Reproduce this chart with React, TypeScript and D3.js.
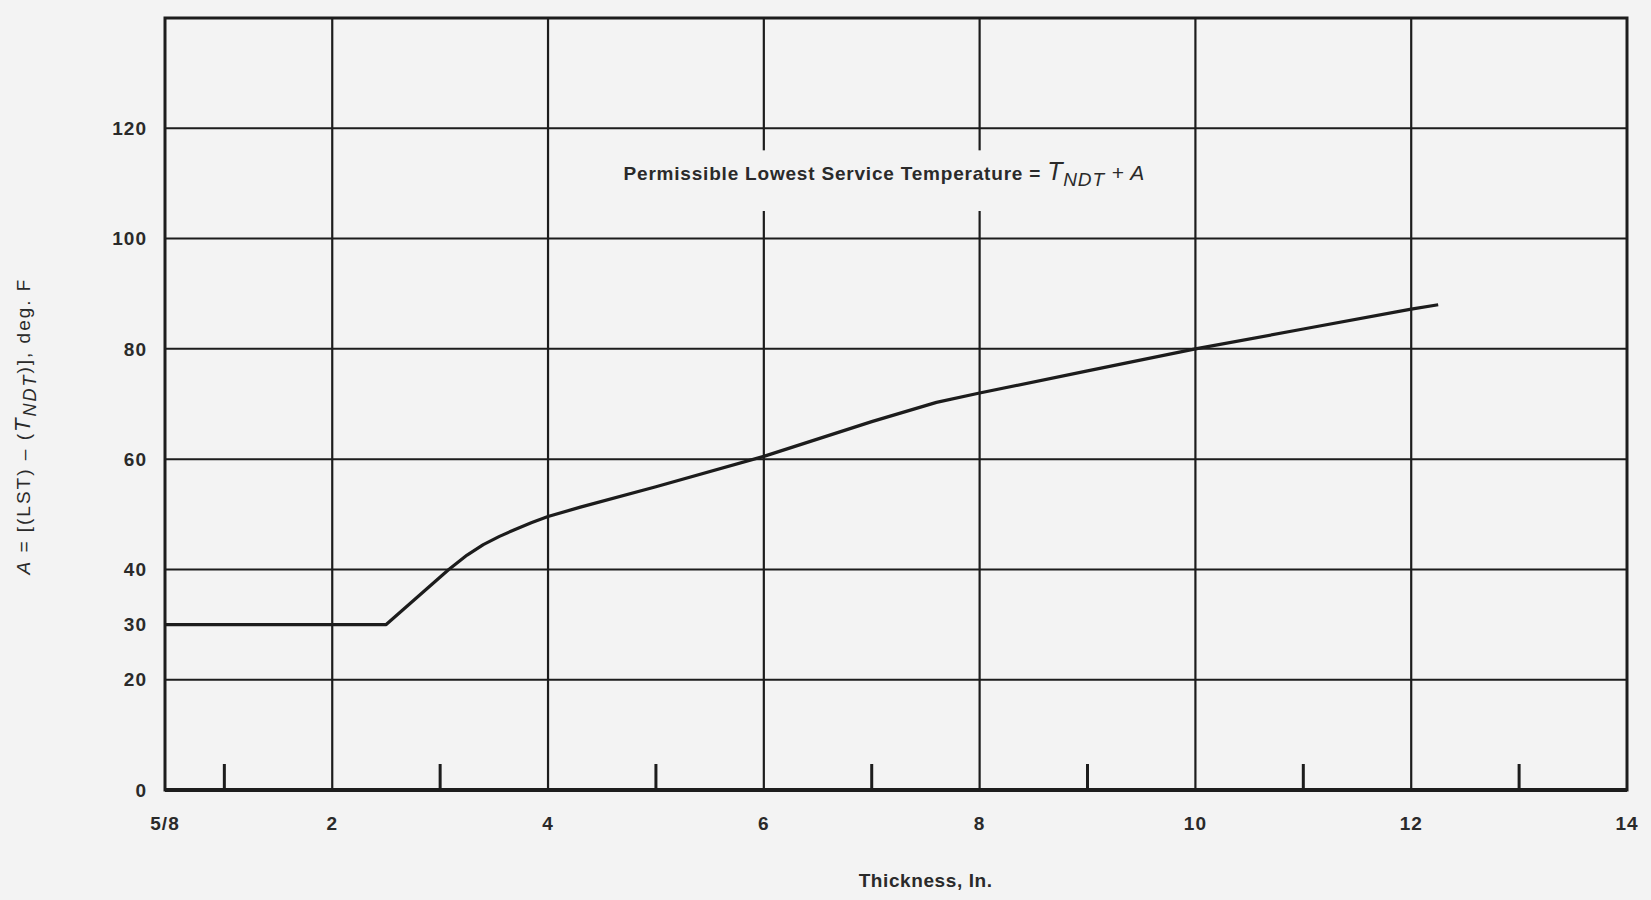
import React, { useEffect, useRef } from 'react';
import * as d3 from 'd3';

// data
const thickness = [0.45, 2.5, 3.08, 3.25, 3.4, 3.55, 3.7, 3.85, 4, 4.3, 5, 6, 7, 7.6, 8, 9, 10, 11, 12, 12.25];
const aValues = [30, 30, 40, 42.6, 44.5, 46, 47.3, 48.5, 49.6, 51.3, 55, 60.5, 66.8, 70.3, 72, 76, 80, 83.6, 87.2, 88];

const xTickValues = [0.45, 2, 4, 6, 8, 10, 12, 14];
const xTickLabels = ['5/8', '2', '4', '6', '8', '10', '12', '14'];
const xGridValues = [2, 4, 6, 8, 10, 12];
const xMinorTicks = [1, 3, 5, 7, 9, 11, 13];

const yTickValues = [0, 20, 30, 40, 60, 80, 100, 120];
const yGridValues = [20, 40, 60, 80, 100, 120];

const ink = '#1c1c1c';
const textInk = '#2a2a2a';
const paper = '#f3f3f3';
const font = '"Liberation Sans", Arial, sans-serif';

function App() {
  const ref = useRef(null);

  useEffect(() => {
    document.body.style.margin = '0';
    document.body.style.background = paper;

    const width = 1651, height = 900;
    const margin = { top: 18, right: 24, bottom: 110, left: 165 };

    const svg = d3.select(ref.current);
    svg.selectAll('*').remove();

    const x = d3.scaleLinear().domain([0.45, 14]).range([margin.left, width - margin.right]);
    const y = d3.scaleLinear().domain([0, 140]).range([height - margin.bottom, margin.top]);

    svg.append('rect').attr('width', width).attr('height', height).attr('fill', paper);

    // horizontal grid
    svg.append('g').selectAll('line').data(yGridValues).join('line')
      .attr('x1', x(0.45)).attr('x2', x(14))
      .attr('y1', d => y(d)).attr('y2', d => y(d))
      .attr('stroke', ink).attr('stroke-width', 2);

    // vertical grid
    svg.append('g').selectAll('line').data(xGridValues).join('line')
      .attr('x1', d => x(d)).attr('x2', d => x(d))
      .attr('y1', y(0)).attr('y2', y(140))
      .attr('stroke', ink).attr('stroke-width', 2.2);

    // minor ticks on the bottom axis
    svg.append('g').selectAll('line').data(xMinorTicks).join('line')
      .attr('x1', d => x(d)).attr('x2', d => x(d))
      .attr('y1', y(0)).attr('y2', y(0) - 26)
      .attr('stroke', ink).attr('stroke-width', 3);

    // frame
    svg.append('rect')
      .attr('x', x(0.45)).attr('y', y(140))
      .attr('width', x(14) - x(0.45)).attr('height', y(0) - y(140))
      .attr('fill', 'none').attr('stroke', ink).attr('stroke-width', 3);
    svg.append('line')
      .attr('x1', x(0.45)).attr('x2', x(14)).attr('y1', y(0)).attr('y2', y(0))
      .attr('stroke', ink).attr('stroke-width', 4);

    // annotation, the grid is cut behind it
    const note = svg.append('g');
    note.append('rect')
      .attr('x', x(4.4)).attr('y', y(116))
      .attr('width', x(9.6) - x(4.4)).attr('height', y(105) - y(116))
      .attr('fill', paper);
    const noteText = note.append('text')
      .attr('x', x(4.7)).attr('y', y(110.6))
      .attr('font-family', font).attr('font-size', 19).attr('font-weight', 'bold')
      .attr('letter-spacing', 0.8)
      .attr('fill', textInk);
    noteText.append('tspan').text('Permissible Lowest Service Temperature = ');
    noteText.append('tspan').attr('font-style', 'italic').attr('font-weight', 'normal')
      .attr('font-size', 25).text('T');
    noteText.append('tspan').attr('font-style', 'italic').attr('font-weight', 'normal')
      .attr('font-size', 19).attr('dy', 6).text('NDT');
    noteText.append('tspan').attr('font-style', 'italic').attr('font-weight', 'normal')
      .attr('font-size', 21).attr('dy', -6).text(' + A');

    // curve
    const pts = thickness.map((t, i) => [t, aValues[i]]);
    const line = d3.line()
      .x(d => x(d[0]))
      .y(d => y(d[1]));
    svg.append('path')
      .datum(pts)
      .attr('d', line)
      .attr('fill', 'none').attr('stroke', ink).attr('stroke-width', 3.2)
      .attr('stroke-linejoin', 'round');

    // y tick labels
    svg.append('g').selectAll('text').data(yTickValues).join('text')
      .attr('x', x(0.45) - 18).attr('y', d => y(d))
      .attr('dy', '0.35em').attr('text-anchor', 'end')
      .attr('font-family', font).attr('font-size', 19).attr('font-weight', 'bold')
      .attr('letter-spacing', 1)
      .attr('fill', textInk)
      .text(d => d);

    // x tick labels
    svg.append('g').selectAll('text').data(xTickValues).join('text')
      .attr('x', d => x(d)).attr('y', y(0) + 40)
      .attr('text-anchor', 'middle')
      .attr('font-family', font).attr('font-size', 19).attr('font-weight', 'bold')
      .attr('letter-spacing', 1)
      .attr('fill', textInk)
      .text((d, i) => xTickLabels[i]);

    // x title
    svg.append('text')
      .attr('x', x(7.5)).attr('y', y(0) + 97)
      .attr('text-anchor', 'middle')
      .attr('font-family', font).attr('font-size', 19).attr('font-weight', 'bold')
      .attr('letter-spacing', 0.6)
      .attr('fill', textInk)
      .text('Thickness, In.');

    // y title
    const yTitle = svg.append('text')
      .attr('transform', `translate(30, ${y(66)}) rotate(-90)`)
      .attr('text-anchor', 'middle')
      .attr('font-family', font).attr('font-size', 19)
      .attr('letter-spacing', 2)
      .attr('fill', textInk);
    yTitle.append('tspan').attr('font-style', 'italic').text('A');
    yTitle.append('tspan').text(' = [(LST) \u2013 (');
    yTitle.append('tspan').attr('font-style', 'italic').attr('font-size', 22).text('T');
    yTitle.append('tspan').attr('font-style', 'italic').attr('font-size', 18).attr('dy', 6).text('NDT');
    yTitle.append('tspan').attr('dy', -6).text(')], deg. F');
  }, []);

  return (
    <div>
      <svg ref={ref} width={1651} height={900} style={{ display: 'block' }} />
    </div>
  );
}

export default App;
